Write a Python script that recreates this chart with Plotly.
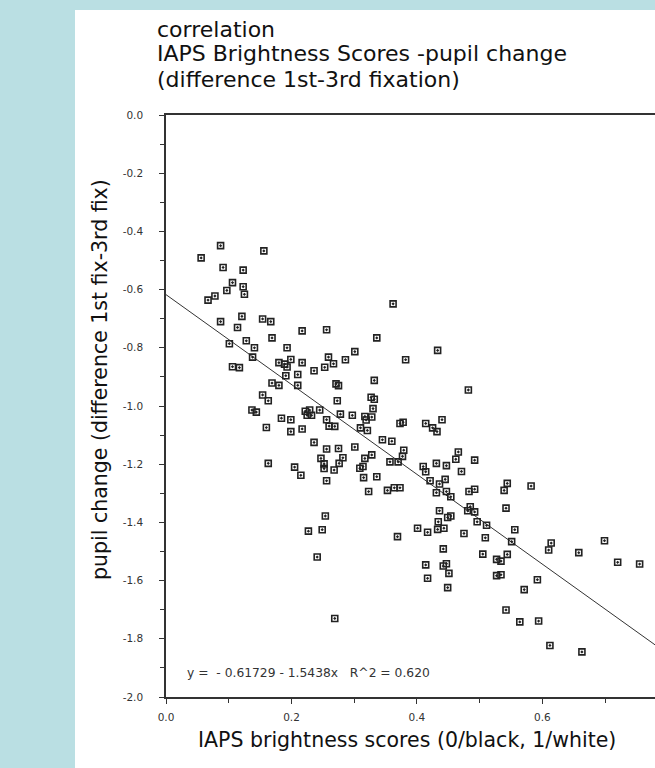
import plotly.graph_objects as go

# IAPS brightness score (0 = black, 1 = white) per picture
brightness = [
    0.087, 0.056, 0.156, 0.091, 0.123, 0.106, 0.123, 0.097, 0.125, 0.078,
    0.067, 0.087, 0.121, 0.114, 0.154, 0.167, 0.217, 0.256, 0.101, 0.128,
    0.141, 0.169, 0.193, 0.138, 0.106, 0.117, 0.180, 0.189, 0.199, 0.193,
    0.191, 0.217, 0.210, 0.236, 0.253, 0.259, 0.169, 0.180, 0.210, 0.154,
    0.163, 0.137, 0.144, 0.222, 0.229, 0.225, 0.232, 0.245, 0.184, 0.199,
    0.160, 0.199, 0.217, 0.236, 0.256, 0.260, 0.256, 0.247,
    0.163, 0.205, 0.215, 0.252, 0.252, 0.256, 0.254, 0.227, 0.249, 0.241,
    0.362, 0.336, 0.433, 0.301, 0.286, 0.382, 0.267, 0.332, 0.482, 0.271,
    0.275, 0.273, 0.327, 0.332, 0.330, 0.278, 0.297, 0.317, 0.328, 0.319,
    0.269, 0.310, 0.321, 0.373, 0.378, 0.414, 0.425, 0.432, 0.440, 0.345,
    0.360, 0.275, 0.301, 0.379, 0.377, 0.466, 0.328, 0.282, 0.317, 0.462,
    0.492,
    0.276, 0.268, 0.314, 0.309, 0.315, 0.336, 0.323, 0.357, 0.370, 0.353,
    0.364, 0.373, 0.410, 0.414, 0.431, 0.447, 0.471, 0.421, 0.436, 0.445,
    0.431, 0.447, 0.454, 0.483, 0.492, 0.485, 0.481, 0.492, 0.436, 0.434,
    0.449, 0.454, 0.496, 0.511, 0.401, 0.417, 0.433, 0.443, 0.475, 0.509,
    0.369, 0.442, 0.505, 0.414, 0.442, 0.447, 0.451, 0.417, 0.449, 0.269,
    0.544, 0.539, 0.582, 0.542, 0.556, 0.551, 0.544, 0.527, 0.534, 0.527,
    0.534, 0.614, 0.610, 0.658, 0.699, 0.720, 0.755, 0.592, 0.571, 0.542,
    0.564, 0.594, 0.612, 0.663,
]

# Pupil change, 1st minus 3rd fixation
pupil_change = [
    -0.449, -0.491, -0.467, -0.524, -0.533, -0.576, -0.590, -0.603, -0.616, -0.622,
    -0.636, -0.710, -0.692, -0.730, -0.701, -0.710, -0.742, -0.738, -0.786, -0.776,
    -0.800, -0.766, -0.800, -0.832, -0.865, -0.868, -0.851, -0.856, -0.840, -0.866,
    -0.896, -0.851, -0.892, -0.879, -0.867, -0.832, -0.921, -0.929, -0.929, -0.962,
    -0.982, -1.014, -1.021, -1.018, -1.014, -1.032, -1.032, -1.014, -1.042, -1.047,
    -1.074, -1.088, -1.079, -1.125, -1.047, -1.069, -1.148, -1.180,
    -1.197, -1.210, -1.238, -1.199, -1.215, -1.257, -1.378, -1.430, -1.425, -1.519,
    -0.649, -0.766, -0.809, -0.813, -0.841, -0.841, -0.855, -0.912, -0.945, -0.924,
    -0.930, -0.982, -0.970, -0.977, -1.009, -1.028, -1.032, -1.036, -1.038, -1.048,
    -1.070, -1.075, -1.084, -1.060, -1.056, -1.060, -1.075, -1.088, -1.047, -1.116,
    -1.121, -1.146, -1.141, -1.152, -1.173, -1.158, -1.168, -1.178, -1.180, -1.183,
    -1.186,
    -1.197, -1.220, -1.208, -1.214, -1.246, -1.243, -1.294, -1.192, -1.192, -1.290,
    -1.281, -1.281, -1.208, -1.226, -1.197, -1.205, -1.225, -1.257, -1.268, -1.252,
    -1.298, -1.294, -1.312, -1.294, -1.286, -1.346, -1.360, -1.364, -1.360, -1.398,
    -1.383, -1.378, -1.398, -1.410, -1.420, -1.434, -1.424, -1.420, -1.438, -1.453,
    -1.449, -1.491, -1.509, -1.546, -1.550, -1.542, -1.575, -1.592, -1.624, -1.730,
    -1.266, -1.290, -1.275, -1.351, -1.425, -1.466, -1.510, -1.527, -1.533, -1.583,
    -1.580, -1.471, -1.495, -1.504, -1.463, -1.537, -1.543, -1.597, -1.631, -1.701,
    -1.742, -1.739, -1.823, -1.845,
]

# Least-squares fit reported on the chart
fit_intercept = -0.61729
fit_slope = -1.5438
fit_r2 = 0.620

x_ticks = [0.0, 0.2, 0.4, 0.6]
x_tick_labels = ["0.0", "0.2", "0.4", "0.6"]
y_ticks = [0.0, -0.2, -0.4, -0.6, -0.8, -1.0, -1.2, -1.4, -1.6, -1.8, -2.0]
y_tick_labels = ["0.0", "-0.2", "-0.4", "-0.6", "-0.8", "-1.0",
                 "-1.2", "-1.4", "-1.6", "-1.8", "-2.0"]

title_lines = ["correlation",
               "IAPS Brightness Scores -pupil change",
               "(difference 1st-3rd fixation)"]
x_title = "IAPS brightness scores (0/black, 1/white)"
y_title = "pupil change (difference 1st fix-3rd fix)"

# ---- page geometry (pixels) ----
W, H = 655, 768
L, R, T, B = 166, 0, 115, 71
PW, PH = W - L - R, H - T - B
X_MAX = 0.7795


def px(xp):
    return (xp - L) / PW


def py(yp):
    return (H - B - yp) / PH


FONT = "DejaVu Sans"
INK = "#222222"
BLUE = "#BADFE3"

fig = go.Figure()

fit_x = [0.0, X_MAX]
fit_y = [fit_intercept + fit_slope * v for v in fit_x]
fig.add_trace(go.Scatter(
    x=fit_x, y=fit_y, mode="lines",
    line=dict(color="#333333", width=1),
    hoverinfo="skip", showlegend=False,
))

fig.add_trace(go.Scatter(
    x=brightness, y=pupil_change, mode="markers",
    marker=dict(symbol="square-open-dot", size=6, color=INK,
                line=dict(color=INK, width=1.6)),
    showlegend=False,
))

annotations = []
for i, line in enumerate(title_lines):
    annotations.append(dict(
        text=line, xref="paper", yref="paper",
        x=px(155), y=py(29 + 25 * i), xanchor="left", yanchor="middle",
        showarrow=False, font=dict(family=FONT, size=22, color="#111111"),
    ))

annotations.append(dict(
    text=x_title, xref="paper", yref="paper",
    x=px(407), y=py(740), xanchor="center", yanchor="middle",
    showarrow=False, font=dict(family=FONT, size=20.5, color="#111111"),
))
annotations.append(dict(
    text=y_title, xref="paper", yref="paper", textangle=-90,
    x=px(100), y=py(380), xanchor="center", yanchor="middle",
    showarrow=False, font=dict(family=FONT, size=20.5, color="#111111"),
))
annotations.append(dict(
    text=f"y =  - {abs(fit_intercept):.5f} - {abs(fit_slope):.4f}x   R^2 = {fit_r2:.3f}",
    xref="x", yref="y", x=0.030, y=-1.918,
    xanchor="left", yanchor="middle", showarrow=False,
    font=dict(family=FONT, size=12.3, color="#333333"),
))

fig.update_layout(
    width=W, height=H,
    margin=dict(l=L, r=R, t=T, b=B, pad=0),
    paper_bgcolor=BLUE,
    plot_bgcolor="white",
    annotations=annotations,
    shapes=[dict(
        type="rect", xref="paper", yref="paper", layer="below",
        x0=px(75), x1=px(W + 5), y0=py(H + 5), y1=py(10),
        fillcolor="white", line=dict(width=0),
    )],
    xaxis=dict(
        range=[0, X_MAX], showgrid=False, zeroline=False,
        showline=True, linecolor="#333333", linewidth=1.5, mirror=True,
        ticks="outside", ticklen=5, tickwidth=1, tickcolor="#333333",
        tickvals=x_ticks, ticktext=x_tick_labels, ticklabelstandoff=5,
        minor=dict(ticks="outside", ticklen=4, dtick=0.1, tick0=0,
                   tickcolor="#333333"),
        tickfont=dict(family=FONT, size=10.5, color="#333333"),
    ),
    yaxis=dict(
        range=[-2.0, 0.0], showgrid=False, zeroline=False,
        showline=True, linecolor="#333333", linewidth=1.5,
        ticks="outside", ticklen=5, tickwidth=1, tickcolor="#333333",
        tickvals=y_ticks, ticktext=y_tick_labels, ticklabelstandoff=14,
        minor=dict(ticks="outside", ticklen=4, dtick=0.1, tick0=0,
                   tickcolor="#333333"),
        tickfont=dict(family=FONT, size=10.5, color="#333333"),
    ),
)

fig.write_html("out.html")
